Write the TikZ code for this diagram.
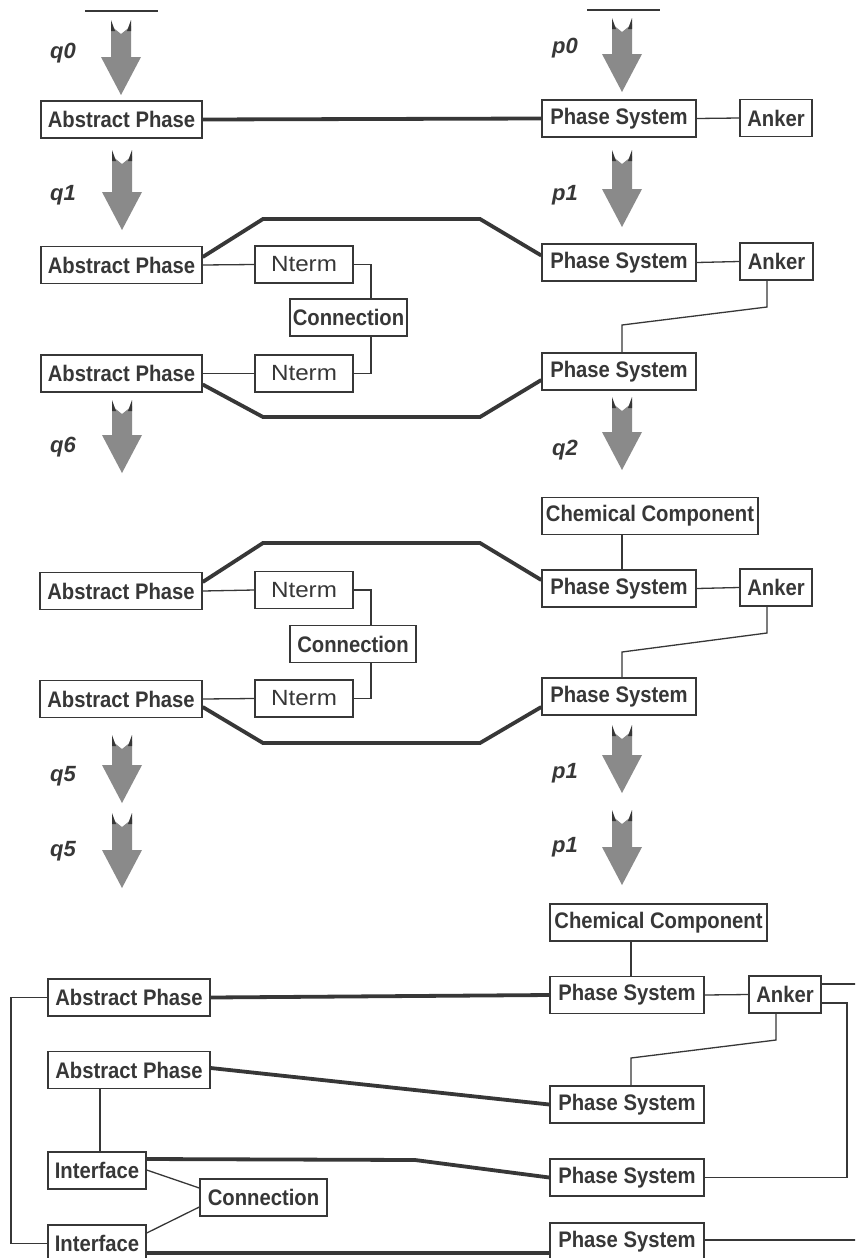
\documentclass[tikz,border=0pt]{standalone}
\usepackage{fontspec}
\usepackage{graphicx}
\setmainfont{Liberation Sans}
\newfontfamily\boxfont[FakeStretch=0.9]{Liberation Sans}
\usetikzlibrary{calc}
\definecolor{ink}{RGB}{55,55,55}
\definecolor{arrgray}{RGB}{138,138,138}
\tikzset{
 box/.style={draw=ink, line width=1.4pt, fill=white, text=ink, inner sep=0pt, minimum height=37pt, font=\boxfont\fontsize{22.5}{24}\selectfont\bfseries},
 ntbox/.style={box, font=\fontsize{22}{24}\selectfont},
 lbl/.style={text=ink, font=\fontsize{22}{24}\selectfont\bfseries\itshape, anchor=base west, inner sep=0pt},
 heavy/.style={draw=ink, line width=3.8pt},
 light/.style={draw=ink, line width=1.3pt},
}
\newcommand\garrow[3]{%
 \fill[arrgray] (#1-10,#2+6) -- (#1,#2+14) -- (#1+10,#2+6) -- (#1+10,#3-38) -- (#1+20,#3-38) -- (#1,#3) -- (#1-20,#3-38) -- (#1-10,#3-38) -- cycle;
 \fill[ink] (#1-10,#2) -- (#1-10,#2+11) -- (#1-6,#2+11) -- cycle;
 \fill[ink] (#1+10,#2) -- (#1+10,#2+11) -- (#1+6,#2+11) -- cycle;
}
\begin{document}
\begin{tikzpicture}[x=1pt,y=-1pt]
\useasboundingbox (0,0) rectangle (855,1258);
\clip (0,0) rectangle (855,1258);
\fill[white] (0,0) rectangle (855,1258);

% top strokes
\coordinate (t1a) at (85,11); \coordinate (t1b) at (158,11);
\coordinate (t2a) at (587,10); \coordinate (t2b) at (660,10);
\draw[ink, line width=2pt] (t1a) -- (t1b);
\draw[ink, line width=2pt] (t2a) -- (t2b);

% big arrows
\garrow{121}{20}{95}
\garrow{622}{18}{92}
\garrow{122}{150}{230}
\garrow{622}{150}{227}
\garrow{122}{400}{473}
\garrow{622}{397}{470}
\garrow{122}{735}{803}
\garrow{622}{725}{793}
\garrow{122}{813}{888}
\garrow{622}{810}{885}

% labels
\node[lbl] (lq0) at (50,58) {q0};
\node[lbl] (lp0) at (552,53) {p0};
\node[lbl] (lq1) at (50,200) {q1};
\node[lbl] (lp1) at (552,200) {p1};
\node[lbl] (lq6) at (50,452) {q6};
\node[lbl] (lq2) at (552,455) {q2};
\node[lbl] (lq5) at (50,781) {q5};
\node[lbl] (lp1b) at (552,778) {p1};
\node[lbl] (lq5b) at (50,856) {q5};
\node[lbl] (lp1c) at (552,852) {p1};

% row 1
\node[box, minimum width=161pt] (ap1) at (121.5,119.5) {Abstract Phase};
\node[box, minimum width=154pt] (ps1) at (619,118.5) {Phase System};
\node[box, minimum width=72pt] (an1) at (776,118) {Anker};

% block 2
\node[box, minimum width=161pt] (ap2) at (121.5,265) {Abstract Phase};
\node[ntbox, minimum width=98pt] (nt1) at (304,264.5) {\scalebox{1.1}[1]{Nterm}};
\node[box, minimum width=117pt] (cn1) at (348.5,317.5) {Connection};
\node[ntbox, minimum width=98pt] (nt2) at (304,373.5) {\scalebox{1.1}[1]{Nterm}};
\node[box, minimum width=161pt] (ap3) at (121.5,373.5) {Abstract Phase};
\node[box, minimum width=154pt] (ps2) at (619,262.5) {Phase System};
\node[box, minimum width=73pt] (an2) at (776.5,261.5) {Anker};
\node[box, minimum width=154pt] (ps3) at (619,371.5) {Phase System};

% block 3
\node[box, minimum width=216pt] (cc1) at (650,516) {Chemical Component};
\node[box, minimum width=162pt] (ap4) at (121,591) {Abstract Phase};
\node[ntbox, minimum width=98pt] (nt3) at (304,590) {\scalebox{1.1}[1]{Nterm}};
\node[box, minimum width=126pt] (cn2) at (353,644) {Connection};
\node[ntbox, minimum width=98pt] (nt4) at (304,698.5) {\scalebox{1.1}[1]{Nterm}};
\node[box, minimum width=162pt] (ap5) at (121,699) {Abstract Phase};
\node[box, minimum width=154pt] (ps4) at (619,588.5) {Phase System};
\node[box, minimum width=72pt] (an3) at (776,587.5) {Anker};
\node[box, minimum width=154pt] (ps5) at (619,696.5) {Phase System};

% block 4
\node[box, minimum width=217pt] (cc2) at (658.5,922.5) {Chemical Component};
\node[box, minimum width=162pt] (ap6) at (129,997.5) {Abstract Phase};
\node[box, minimum width=154pt] (ps6) at (627,995) {Phase System};
\node[box, minimum width=72pt] (an4) at (785,994.5) {Anker};
\node[box, minimum width=162pt] (ap7) at (129,1070) {Abstract Phase};
\node[box, minimum width=154pt] (ps7) at (627,1104.5) {Phase System};
\node[box, minimum width=98pt] (if1) at (97,1170.5) {Interface};
\node[box, minimum width=127pt] (cn3) at (263.5,1197.5) {Connection};
\node[box, minimum width=98pt] (if2) at (97,1243.5) {Interface};
\node[box, minimum width=154pt] (ps8) at (627,1177.5) {Phase System};
\node[box, minimum width=154pt] (ps9) at (627,1241.5) {Phase System};

\coordinate (e1) at (860,984);
\coordinate (e2) at (860,1240);

% heavy
\draw[heavy] (ap1.east) -- (ps1.west);
\draw[heavy] ($(ap2.east)+(0,-8)$) -- (263,219) -- (480,219) -- ($(ps2.west)+(0,-7)$);
\draw[heavy] ($(ap3.east)+(0,11)$) -- (263,417) -- (480,417) -- ($(ps3.west)+(0,8.5)$);
\draw[heavy] ($(ap4.east)+(0,-9)$) -- (263,543) -- (480,543) -- ($(ps4.west)+(0,-8.5)$);
\draw[heavy] ($(ap5.east)+(0,8)$) -- (263,743) -- (480,743) -- ($(ps5.west)+(0,10.5)$);
\draw[heavy] (ap6.east) -- (ps6.west);
\draw[heavy] ($(ap7.east)+(0,-2)$) -- (ps7.west);
\draw[heavy] ($(if1.east)+(0,-11.5)$) -- (415,1160) -- (ps8.west);
\draw[heavy] ($(if2.east)+(0,9.5)$) -- ($(ps9.west)+(0,11.5)$);

% light
\draw[light] (ps1.east) -- (an1.west);
\draw[light] (ap2.east) -- (nt1.west);
\draw[light] (ap3.east) -- (nt2.west);
\draw[light] (nt1.east) -| ($(cn1.north)+(22.5,0)$);
\draw[light] (nt2.east) -| ($(cn1.south)+(22.5,0)$);
\draw[light] (ps2.east) -- (an2.west);
\draw[light] ($(an2.south)+(-9.5,0)$) -- (767,307) -- (622,325) -- ($(ps3.north)+(3,0)$);

\draw[light] ($(cc1.south)+(-28,0)$) -- ($(ps4.north)+(3,0)$);
\draw[light] (ap4.east) -- (nt3.west);
\draw[light] (ap5.east) -- (nt4.west);
\draw[light] (nt3.east) -| ($(cn2.north)+(18,0)$);
\draw[light] (nt4.east) -| ($(cn2.south)+(18,0)$);
\draw[light] (ps4.east) -- (an3.west);
\draw[light] ($(an3.south)+(-9,0)$) -- (767,633) -- (622,652) -- ($(ps5.north)+(3,0)$);

\draw[light] ($(cc2.south)+(-27.5,0)$) -- ($(ps6.north)+(4,0)$);
\draw[light] (ps6.east) -- (an4.west);
\draw[light] ($(an4.south)+(-9,0)$) -- (776,1040) -- (631,1058) -- ($(ps7.north)+(4,0)$);
\draw[light] ($(an4.east)+(0,-10.5)$) -- (e1);
\draw[light] ($(an4.east)+(0,8.5)$) -- (847,1003) -- (847,1177.5) -- (ps8.east);
\draw[light] ($(ps9.east)+(0,-1.5)$) -- (e2);
\draw[light] (ap6.west) -- (11,997.5) -- (11,1243.5) -- (if2.west);
\draw[light] ($(ap7.south)+(-29,0)$) -- ($(if1.north)+(3,0)$);
\draw[light] ($(if1.east)+(0,-0.5)$) -- ($(cn3.west)+(0,-9.5)$);
\draw[light] ($(if2.east)+(0,-10.5)$) -- ($(cn3.west)+(0,9.5)$);
\end{tikzpicture}
\end{document}
